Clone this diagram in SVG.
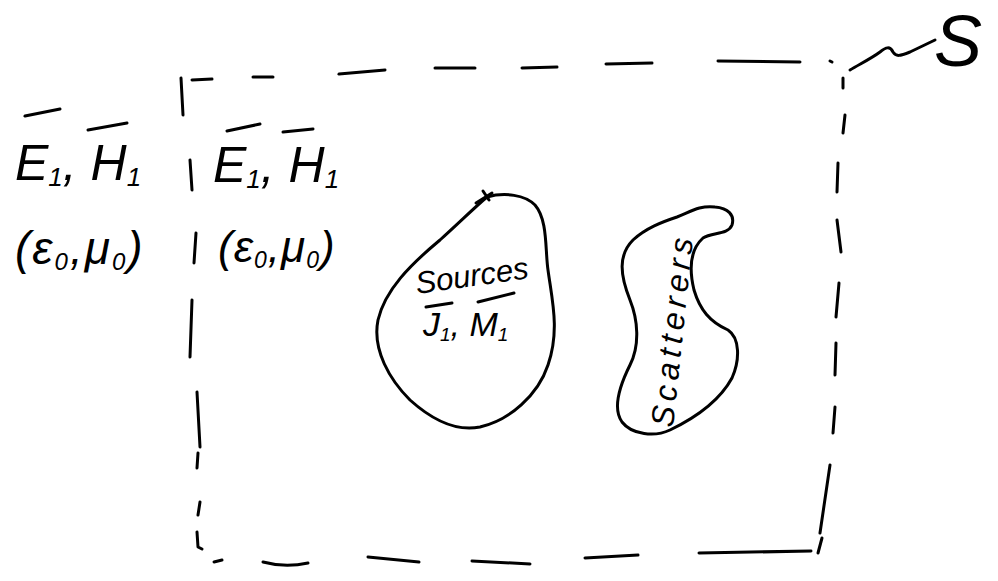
<svg xmlns="http://www.w3.org/2000/svg" width="998" height="581" viewBox="0 0 998 581">
<style>
.ink{fill:none;stroke:#000;stroke-width:3;stroke-linecap:round;stroke-linejoin:round}
.txt{font-family:"Liberation Sans",Arial,sans-serif;font-style:italic;fill:#000}
</style>
<rect width="998" height="581" fill="#fff"/>
<g id="boundary-S" class="ink">
<path d="M181,78 L183,115"/>
<path d="M192,80 L212,79"/>
<path d="M253,77 L273,77"/>
<path d="M339,74 L385,70"/>
<path d="M435,68 L475,68"/>
<path d="M522,68 L557,67"/>
<path d="M606,64 L652,63"/>
<path d="M718,61 L800,62"/>
<path d="M830,61 L832,62"/>
<path d="M843,78 L843,88"/>
<path d="M845,115 L843,133"/>
<path d="M838,163 L837,192"/>
<path d="M837,220 L841,252"/>
<path d="M839,283 L836,317"/>
<path d="M836,343 L835,375"/>
<path d="M835,407 L833,433"/>
<path d="M830,465 L820,533"/>
<path d="M822,538 L818,553"/>
<path d="M699,553 L811,551"/>
<path d="M585,558 L638,555"/>
<path d="M472,561 L530,564"/>
<path d="M368,557 L419,562"/>
<path d="M263,562 Q285,568 308,563"/>
<path d="M214,562 L222,560"/>
<path d="M190,160 L192,190"/>
<path d="M196,233 L194,263"/>
<path d="M192,300 L190,357"/>
<path d="M197,392 L200,447"/>
<path d="M198,453 L197,468"/>
<path d="M200,502 L198,515"/>
<path d="M197,532 L198,547 L202,549"/>
</g>
<g id="connectors" class="ink">
<path d="M850,70 C860,64 872,58 880,52 C886,47 890,46 893,52 C896,57 900,56 910,52 L935,40"/>
</g>
<g id="label-S">
<text class="txt" x="934" y="66" font-size="72">S</text>
</g>
<g id="outside-fields">
<text class="txt" x="15" y="180" font-size="50">E<tspan font-size="26" dy="6">1</tspan><tspan dy="-6">, H</tspan><tspan font-size="26" dy="6">1</tspan></text>
<path class="ink" d="M25,116 L60,109"/>
<path class="ink" d="M88,130 L127,123"/>
<text class="txt" x="15" y="264" font-size="46" letter-spacing="2">(ε<tspan font-size="24" dy="6">0</tspan><tspan dy="-6">,μ</tspan><tspan font-size="24" dy="6">0</tspan><tspan dy="-6">)</tspan></text>
</g>
<g id="inside-fields">
<text class="txt" x="213" y="182" font-size="50">E<tspan font-size="26" dy="6">1</tspan><tspan dy="-6">, H</tspan><tspan font-size="26" dy="6">1</tspan></text>
<path class="ink" d="M227,131 L260,124"/>
<path class="ink" d="M283,132 L313,129"/>
<text class="txt" x="218" y="262" font-size="44" letter-spacing="1">(ε<tspan font-size="23" dy="6">0</tspan><tspan dy="-6">,μ</tspan><tspan font-size="23" dy="6">0</tspan><tspan dy="-6">)</tspan></text>
</g>
<g id="sources">
<path class="ink" d="M487,197 C505,192 525,195 535,205 C548,220 545,250 548,270 C552,300 560,330 548,365 C538,395 510,420 480,427 C455,432 430,418 410,400 C390,380 372,350 378,320 C385,290 410,265 440,240 C460,222 475,207 487,197 Z"/>
<path class="ink" d="M476,203 L492,193 M483,191 L489,200"/>
<text class="txt" x="417" y="294" font-size="31" transform="rotate(-8 417 294)">Sources</text>
<text class="txt" x="423" y="336" font-size="34">J<tspan font-size="19" dy="5">1</tspan><tspan dy="-5">, M</tspan><tspan font-size="19" dy="5">1</tspan></text>
<path class="ink" d="M426,307 L452,303"/>
<path class="ink" d="M478,302 L514,293"/>
</g>
<g id="scatterers">
<path class="ink" d="M677,217 C690,212 700,205 715,207 C728,208 735,215 732,225 C728,235 712,232 703,238 C692,248 688,265 694,290 C700,310 710,322 728,330 C740,338 740,360 732,378 C720,400 695,418 670,430 C655,437 632,435 622,422 C612,408 620,385 630,365 C640,345 638,320 630,300 C620,275 618,255 633,240 C646,228 662,222 677,217 Z"/>
<text class="txt" x="673" y="428" font-size="32" textLength="190" lengthAdjust="spacing" transform="rotate(-84 673 428)">Scatterers</text>
</g>
</svg>
